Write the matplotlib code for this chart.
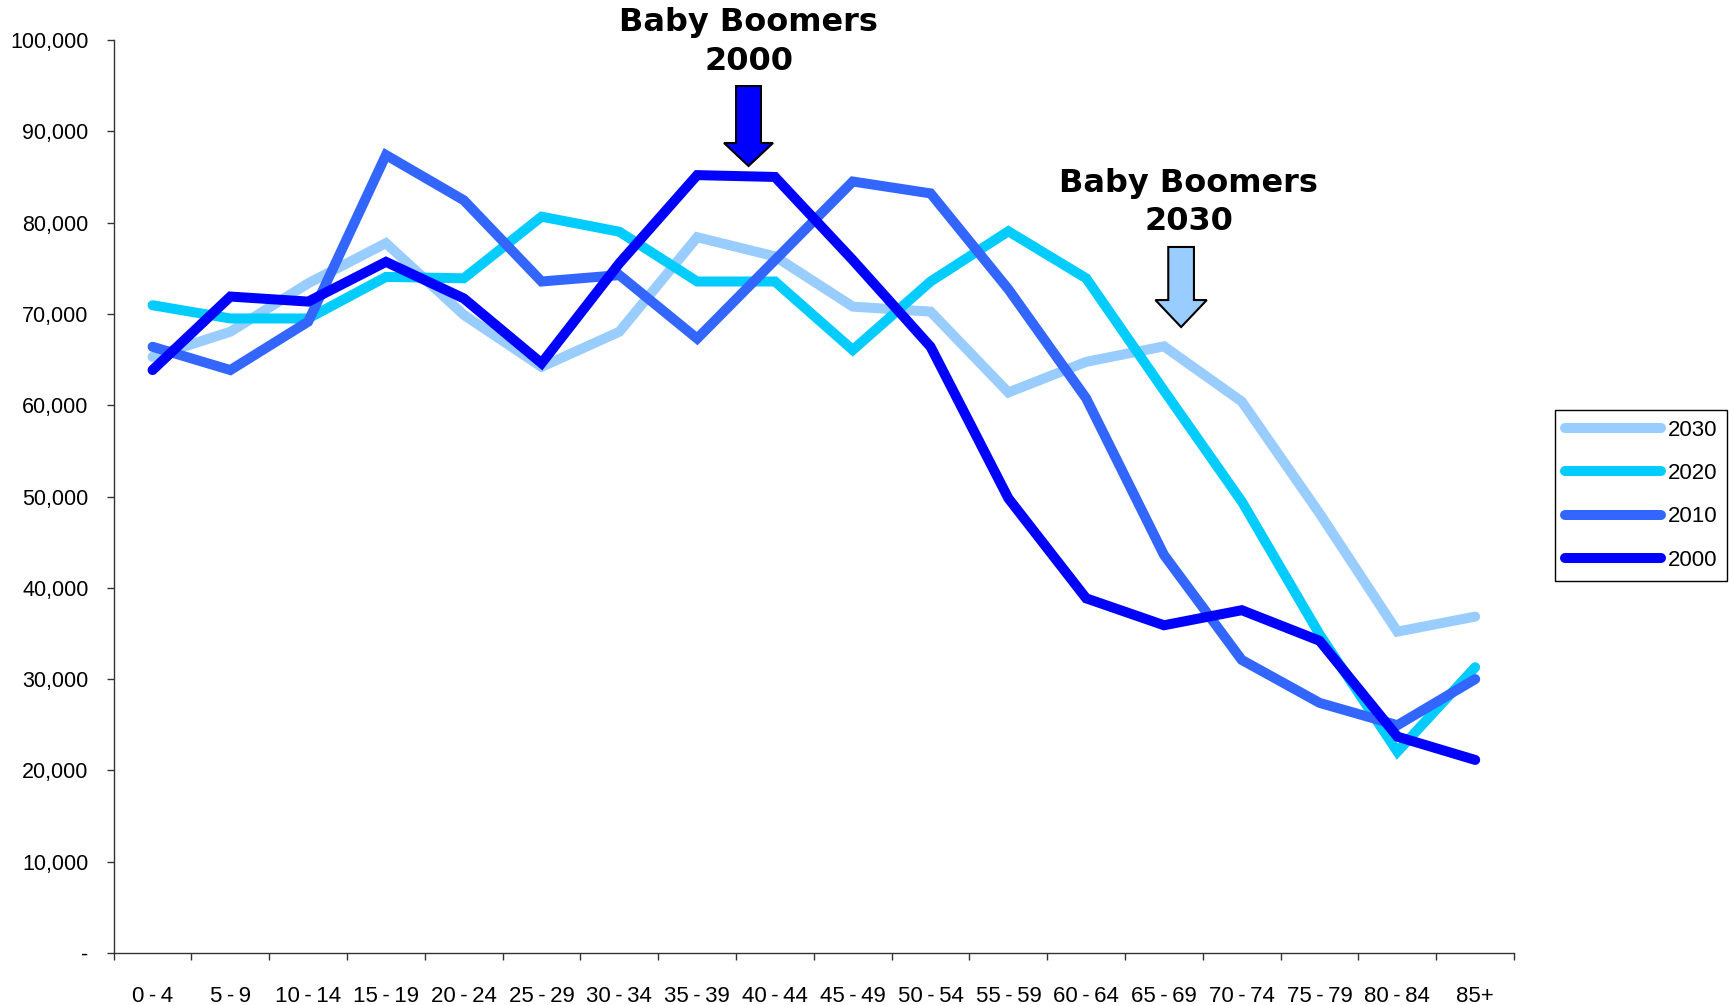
import numpy as np
import matplotlib
matplotlib.use("Agg")
import matplotlib.pyplot as plt
from matplotlib.patches import FancyArrow

plt.rcParams["font.family"] = ["Liberation Sans", "DejaVu Sans"]

AGES = ["0-4", "5-9", "10-14", "15-19", "20-24", "25-29", "30-34", "35-39",
        "40-44", "45-49", "50-54", "55-59", "60-64", "65-69", "70-74", "75-79",
        "80-84", "85+"]
POP_2030 = [65300, 68050, 73350, 77750, 69900, 64200, 68050, 78400, 76300, 70800, 70250,
            61400, 64750, 66450, 60400, 48150, 35200, 36850]
POP_2020 = [70950, 69500, 69500, 74050, 73900, 80650, 79000, 73550, 73550, 66050, 73550,
            79050, 73900, 61600, 49450, 34900, 22050, 31300]
POP_2010 = [66400, 63850, 69150, 87400, 82450, 73550, 74250, 67300, 75900, 84500, 83200,
            72700, 60750, 43600, 32100, 27400, 24950, 30000]
POP_2000 = [63850, 71900, 71350, 75700, 71700, 64600, 75550, 85200, 85000, 75900, 66400,
            49800, 38850, 35900, 37550, 34200, 23700, 21150]
SERIES = [("2030", POP_2030, "#99CCFF"), ("2020", POP_2020, "#00CCFF"),
          ("2010", POP_2010, "#3366FF"), ("2000", POP_2000, "#0000FF")]
YTICKS = list(range(0, 100001, 10000))

fig = plt.figure(figsize=(17.3, 10.05), dpi=100)
ax = fig.add_axes([0.0657, 0.0517, 0.8095, 0.9085])

x = np.arange(len(AGES))
for lab, vals, col in SERIES:
    ax.plot(x, vals, color=col, lw=7.2, solid_capstyle="round", solid_joinstyle="miter",
            label=lab, clip_on=False)

ax.set_xlim(-0.5, len(AGES) - 0.5)
ax.set_ylim(0, 100000)

# category boundaries as ticks, labels at centres (thin spaces round the dash)
ax.set_xticks(np.arange(-0.5, len(AGES), 1))
ax.set_xticklabels([])
ax.set_xticks(x, minor=True)
ax.set_xticklabels([a.replace("-", "\u2009-\u2009") for a in AGES], minor=True, fontsize=16,
                   family=["Liberation Sans Narrow", "Liberation Sans", "DejaVu Sans"])
ax.tick_params(axis="x", which="major", length=5, width=1, color="#333333", direction="out")
ax.tick_params(axis="x", which="minor", length=0, pad=24)

ax.set_yticks(YTICKS)
ax.set_yticklabels(["-" if v == 0 else f"{v:,}" for v in YTICKS], fontsize=15.5)
ax.tick_params(axis="y", length=5, width=1, color="#333333", direction="out", pad=13)

for s in ("top", "right"):
    ax.spines[s].set_visible(False)
for s in ("left", "bottom"):
    ax.spines[s].set_color("#333333")
    ax.spines[s].set_linewidth(1.0)

# annotations
ax.add_patch(FancyArrow(7.66, 94960, 0, -8760, width=0.32, head_width=0.63, head_length=2520,
                        length_includes_head=True, fc="#0000FF", ec="black", lw=1.5,
                        clip_on=False, zorder=5))
ax.text(7.66, 99750, "Baby Boomers\n2000", ha="center", va="center", fontsize=23,
        fontweight="bold", family="DejaVu Sans", linespacing=1.33, clip_on=False)
ax.add_patch(FancyArrow(13.22, 77330, 0, -8770, width=0.33, head_width=0.66, head_length=2960,
                        length_includes_head=True, fc="#99CCFF", ec="black", lw=1.5,
                        clip_on=False, zorder=5))
ax.text(13.32, 82200, "Baby Boomers\n2030", ha="center", va="center", fontsize=23,
        fontweight="bold", family="DejaVu Sans", linespacing=1.33, clip_on=False)

leg = fig.legend(loc="upper left", bbox_to_anchor=(0.899, 0.592), borderaxespad=0,
                 fontsize=16, handlelength=4.3, handletextpad=0.3, labelspacing=1.0,
                 borderpad=0.45, fancybox=False, framealpha=1, edgecolor="black")
leg.get_frame().set_linewidth(1.0)

fig.savefig("out.png", dpi=100)
